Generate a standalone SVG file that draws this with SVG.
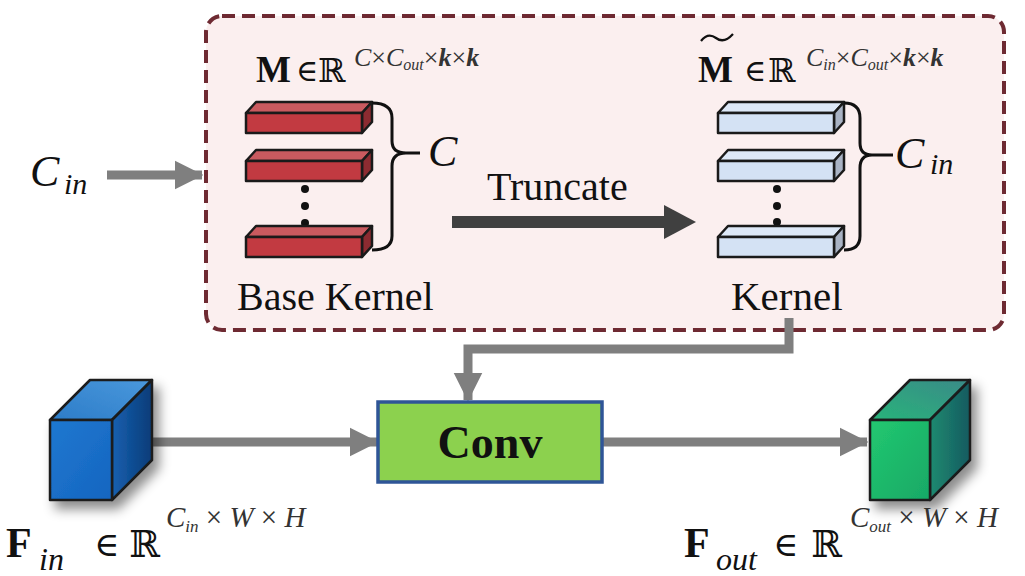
<svg xmlns="http://www.w3.org/2000/svg" width="1025" height="576" viewBox="0 0 1025 576">
  <style>
    .serif { font-family: "Liberation Serif", "Times New Roman", "DejaVu Serif", serif; fill: #111; }
    .it { font-style: italic; }
    .bold { font-weight: bold; }
    .sup { font-family: "Liberation Serif", "Times New Roman", "DejaVu Serif", serif; font-style: italic; fill: #333; }
    .edge { stroke: #1a1a1a; stroke-width: 2.5; stroke-linejoin: round; }
    .brace { fill: none; stroke: #111; stroke-width: 3; }
    .flow { fill: none; stroke: #7f7f7f; stroke-width: 9; }
    .dot { fill: #111; }
  </style>
  <defs>
    <marker id="grayHead" viewBox="0 0 10 10" refX="9.5" refY="5" markerWidth="3.2" markerHeight="3.6" markerUnits="strokeWidth" orient="auto">
      <path d="M0,0 L10,5 L0,10 Z" fill="#7f7f7f"/>
    </marker>
    <filter id="shadow" x="-40%" y="-40%" width="190%" height="190%">
      <feDropShadow dx="6" dy="8" stdDeviation="6" flood-color="#000" flood-opacity="0.45"/>
    </filter>
    <linearGradient id="blueFront" x1="0" y1="0" x2="1" y2="1">
      <stop offset="0" stop-color="#1f78d0"/>
      <stop offset="1" stop-color="#1565c0"/>
    </linearGradient>
    <linearGradient id="blueTop" x1="0" y1="1" x2="1" y2="0">
      <stop offset="0" stop-color="#2c7cc8"/>
      <stop offset="1" stop-color="#4a98dc"/>
    </linearGradient>
    <linearGradient id="blueSide" x1="0" y1="0" x2="1" y2="0">
      <stop offset="0" stop-color="#1660b0"/>
      <stop offset="1" stop-color="#0a3c78"/>
    </linearGradient>
    <linearGradient id="greenFront" x1="0" y1="0" x2="1" y2="1">
      <stop offset="0" stop-color="#22c870"/>
      <stop offset="1" stop-color="#18a866"/>
    </linearGradient>
    <linearGradient id="greenTop" x1="0" y1="1" x2="1" y2="0">
      <stop offset="0" stop-color="#28b47a"/>
      <stop offset="1" stop-color="#3a8a88"/>
    </linearGradient>
    <linearGradient id="greenSide" x1="0" y1="0" x2="1" y2="0">
      <stop offset="0" stop-color="#1e8a70"/>
      <stop offset="1" stop-color="#155a60"/>
    </linearGradient>
    <!-- one kernel slice: top face, side face, front face -->
    <g id="redBar">
      <path class="edge" d="M0,0 L10,-11 L126,-11 L116,0 Z" fill="#c95a5f"/>
      <path class="edge" d="M116,0 L126,-11 L126,9 L116,20 Z" fill="#8c2b31"/>
      <rect class="edge" x="0" y="0" width="116" height="20" fill="#c23a41"/>
    </g>
    <g id="blueBar">
      <path class="edge" d="M0,0 L10,-11 L126,-11 L116,0 Z" fill="#dde8f7"/>
      <path class="edge" d="M116,0 L126,-11 L126,9 L116,20 Z" fill="#a9b3c4"/>
      <rect class="edge" x="0" y="0" width="116" height="20" fill="#d4e2f4"/>
    </g>
  </defs>

  <rect width="1025" height="576" fill="#ffffff"/>

  <!-- kernel generation panel -->
  <g id="panel">
    <rect x="206" y="16" width="798" height="314" rx="16" ry="16" fill="#fbefef" stroke="#6e2a32" stroke-width="4" stroke-dasharray="13 7"/>
  </g>

  <!-- connectors -->
  <g id="connectors">
    <line class="flow" x1="107" y1="175" x2="202" y2="175" marker-end="url(#grayHead)"/>
    <line x1="452" y1="222" x2="668" y2="222" stroke="#404040" stroke-width="12"/>
    <path d="M664,205 L696,222 L664,239 Z" fill="#404040"/>
    <polyline class="flow" points="789,318 789,349 468,349 468,400" marker-end="url(#grayHead)"/>
    <line class="flow" x1="137" y1="442" x2="377" y2="442" marker-end="url(#grayHead)"/>
    <line class="flow" x1="602" y1="442" x2="867" y2="442" marker-end="url(#grayHead)"/>
  </g>

  <!-- input channel label -->
  <g id="cin-label">
    <text class="serif it" x="30" y="186" font-size="44">C</text>
    <text class="serif it" x="64" y="194" font-size="30">in</text>
  </g>

  <!-- base kernel stack -->
  <g id="base-kernel">
    <use href="#redBar" x="246" y="113"/>
    <use href="#redBar" x="246" y="161"/>
    <circle class="dot" cx="305" cy="189" r="4"/>
    <circle class="dot" cx="305" cy="206" r="4"/>
    <circle class="dot" cx="305" cy="223" r="4"/>
    <use href="#redBar" x="246" y="237"/>
    <path class="brace" d="M372,103 Q392,103 392,118 L392,141 Q392,153 406,153 L420,153 M406,153 Q392,153 392,166 L392,236 Q392,250 372,250"/>
    <text class="serif it" x="428" y="166" font-size="44">C</text>
    <text class="serif" x="237" y="310" font-size="40">Base Kernel</text>
    <text class="serif bold" x="256" y="82" font-size="37">M</text>
    <text class="serif" x="296" y="81" font-size="30">∈</text>
    <text class="serif" x="318" y="82" font-size="33">ℝ</text>
    <text class="sup" x="354" y="66" font-size="26">C<tspan font-style="normal">×</tspan>C<tspan font-size="16" dy="4">out</tspan><tspan font-style="normal" dy="-4">×</tspan><tspan font-weight="bold">k</tspan><tspan font-style="normal">×</tspan><tspan font-weight="bold">k</tspan></text>
  </g>

  <!-- truncate step -->
  <g id="truncate">
    <text class="serif" x="487" y="200" font-size="40">Truncate</text>
  </g>

  <!-- truncated kernel stack -->
  <g id="kernel">
    <use href="#blueBar" x="718" y="113"/>
    <use href="#blueBar" x="718" y="161"/>
    <circle class="dot" cx="777" cy="189" r="4"/>
    <circle class="dot" cx="777" cy="206" r="4"/>
    <circle class="dot" cx="777" cy="222" r="4"/>
    <use href="#blueBar" x="718" y="237"/>
    <path class="brace" d="M844,103 Q860,103 860,118 L860,143 Q860,155 872,155 L893,155 M872,155 Q860,155 860,168 L860,236 Q860,250 844,250"/>
    <text class="serif it" x="895" y="168" font-size="44">C</text>
    <text class="serif it" x="930" y="174" font-size="30">in</text>
    <text class="serif" x="731" y="310" font-size="41">Kernel</text>
    <text class="serif bold" x="698" y="82" font-size="37">M</text>
    <path d="M701,41 Q708,32 716,38 Q724,44 733,34" fill="none" stroke="#111" stroke-width="2.2"/>
    <text class="serif" x="744" y="81" font-size="30">∈</text>
    <text class="serif" x="768" y="82" font-size="33">ℝ</text>
    <text class="sup" x="806" y="66" font-size="26">C<tspan font-size="16" dy="4">in</tspan><tspan font-style="normal" dy="-4">×</tspan>C<tspan font-size="16" dy="4">out</tspan><tspan font-style="normal" dy="-4">×</tspan><tspan font-weight="bold">k</tspan><tspan font-style="normal">×</tspan><tspan font-weight="bold">k</tspan></text>
  </g>

  <!-- input feature map -->
  <g id="input-feature">
    <g filter="url(#shadow)">
      <path class="edge" stroke-width="4" d="M50,420 L90,380 L152,380 L112,420 Z" fill="url(#blueTop)"/>
      <path class="edge" stroke-width="4" d="M112,420 L152,380 L152,460 L112,500 Z" fill="url(#blueSide)"/>
      <rect class="edge" stroke-width="4" x="50" y="420" width="62" height="80" fill="url(#blueFront)"/>
    </g>
    <text class="serif bold" x="6" y="557" font-size="42">F</text>
    <text class="serif it" x="39" y="570" font-size="32">in</text>
    <text class="serif" x="94" y="556" font-size="34">∈</text>
    <text class="serif" x="129" y="557" font-size="37">ℝ</text>
    <text class="sup" x="166" y="527" font-size="29">C<tspan font-size="17" dy="5">in</tspan><tspan font-style="normal" dy="-5"> × </tspan>W<tspan font-style="normal"> × </tspan>H</text>
  </g>

  <!-- convolution -->
  <g id="conv">
    <rect x="378" y="402" width="224" height="80" fill="#8cd14e" stroke="#2f5597" stroke-width="3.5"/>
    <text class="serif bold" x="490" y="458" font-size="46" text-anchor="middle">Conv</text>
  </g>

  <!-- output feature map -->
  <g id="output-feature">
    <g filter="url(#shadow)">
      <path class="edge" stroke-width="4" d="M870,420 L910,380 L970,380 L930,420 Z" fill="url(#greenTop)"/>
      <path class="edge" stroke-width="4" d="M930,420 L970,380 L970,460 L930,500 Z" fill="url(#greenSide)"/>
      <rect class="edge" stroke-width="4" x="870" y="420" width="60" height="80" fill="url(#greenFront)"/>
    </g>
    <text class="serif bold" x="684" y="557" font-size="42">F</text>
    <text class="serif it" x="716" y="570" font-size="32">out</text>
    <text class="serif" x="773" y="556" font-size="34">∈</text>
    <text class="serif" x="811" y="557" font-size="37">ℝ</text>
    <text class="sup" x="850" y="527" font-size="29">C<tspan font-size="17" dy="5">out</tspan><tspan font-style="normal" dy="-5"> × </tspan>W<tspan font-style="normal"> × </tspan>H</text>
  </g>
</svg>
